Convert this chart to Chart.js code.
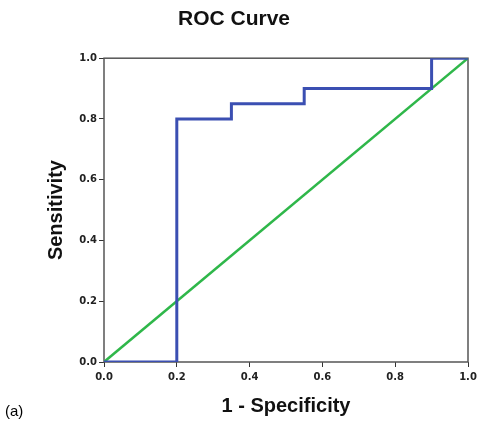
<!DOCTYPE html>
<html>
<head>
<meta charset="utf-8">
<script src="https://cdn.jsdelivr.net/npm/chart.js@4/dist/chart.umd.min.js"></script>
<style>
  html, body { margin: 0; padding: 0; background: #fff; }
  #wrap { width: 479px; height: 423px; position: relative; }
</style>
</head>
<body>
<div id="wrap"><canvas id="roc"></canvas></div>
<script>
// ROC curve values (1 - specificity, sensitivity)
const rocX = [0, 0.2, 0.2, 0.35, 0.35, 0.55, 0.55, 0.9, 0.9, 1.0];
const rocY = [0, 0, 0.8, 0.8, 0.85, 0.85, 0.9, 0.9, 1.0, 1.0];
// reference (chance) line
const refX = [0, 1];
const refY = [0, 1];
const tickValues = [0, 0.2, 0.4, 0.6, 0.8, 1.0];

const FONT = 'Arial, "Liberation Sans", sans-serif';
const TICK_FONT = '"DejaVu Sans", Verdana, sans-serif';

const frame = {
  id: 'frame',
  beforeDatasetsDraw(chart) {
    const { ctx, chartArea: a } = chart;
    ctx.save();
    ctx.strokeStyle = '#555';
    ctx.lineWidth = 1.5;
    ctx.strokeRect(a.left, a.top, a.right - a.left, a.bottom - a.top);
    ctx.restore();
  },
  afterDraw(chart) {
    const ctx = chart.ctx;
    ctx.save();
    ctx.fillStyle = '#000';
    ctx.font = '15px ' + FONT;
    ctx.textBaseline = 'alphabetic';
    ctx.fillText('(a)', 5, 416);
    ctx.restore();
  }
};

const toPts = (xs, ys) => xs.map((x, i) => ({ x, y: ys[i] }));

new Chart(document.getElementById('roc'), {
  type: 'scatter',
  data: {
    datasets: [
      {
        label: 'Reference',
        data: toPts(refX, refY),
        showLine: true,
        borderColor: '#2fb74a',
        borderWidth: 2.5,
        pointRadius: 0,
        order: 2,
      },
      {
        label: 'ROC',
        data: toPts(rocX, rocY),
        showLine: true,
        borderColor: '#3b4fb2',
        borderWidth: 3,
        pointRadius: 0,
        borderJoinStyle: 'miter',
        order: 1,
      },
    ]
  },
  options: {
    responsive: true,
    maintainAspectRatio: false,
    animation: false,
    layout: { padding: { left: 0, right: 11, top: 0, bottom: 5 } },
    plugins: {
      legend: { display: false },
      tooltip: { enabled: false },
      title: {
        display: true,
        text: 'ROC Curve',
        color: '#111',
        font: { family: FONT, size: 21, weight: 'bold' },
        padding: { top: 7, bottom: 26 },
      },
    },
    scales: {
      x: {
        type: 'linear',
        min: 0,
        max: 1,
        afterBuildTicks: (s) => { s.ticks = tickValues.map(v => ({ value: v })); },
        ticks: {
          color: '#222',
          font: { family: TICK_FONT, size: 10, weight: 'bold' },
          padding: 4,
          callback: (v) => v.toFixed(1),
        },
        grid: { drawOnChartArea: false, drawTicks: true, tickLength: 5, color: '#333' },
        border: { display: false },
        title: {
          display: true,
          text: '1 - Specificity',
          color: '#111',
          font: { family: FONT, size: 20, weight: 'bold' },
          padding: { top: 7, bottom: 0 },
        },
        afterFit: (s) => { s.paddingRight = 0; },
      },
      y: {
        type: 'linear',
        min: 0,
        max: 1,
        afterBuildTicks: (s) => { s.ticks = tickValues.map(v => ({ value: v })); },
        ticks: {
          color: '#222',
          font: { family: TICK_FONT, size: 10, weight: 'bold' },
          padding: 2,
          callback: (v) => v.toFixed(1),
        },
        grid: { drawOnChartArea: false, drawTicks: true, tickLength: 5, color: '#333' },
        border: { display: false },
        title: {
          display: true,
          text: 'Sensitivity',
          color: '#111',
          font: { family: FONT, size: 20, weight: 'bold' },
          padding: { top: 44, bottom: 0 },
        },
        afterFit: (s) => { s.width = 104; },
      },
    },
  },
  plugins: [frame],
});
</script>
</body>
</html>
